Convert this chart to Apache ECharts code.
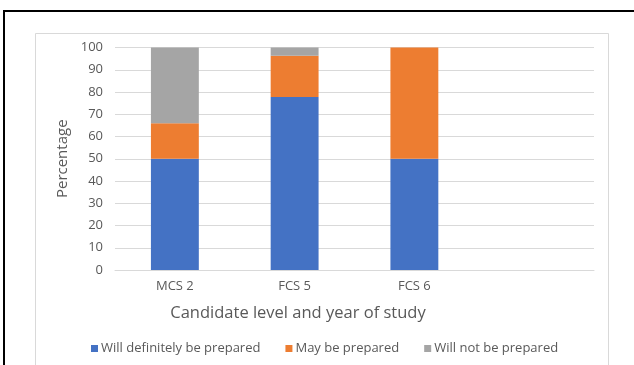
<!DOCTYPE html>
<html>
<head>
<meta charset="utf-8">
<script src="https://cdn.jsdelivr.net/npm/echarts@6/dist/echarts.min.js"></script>
<style>
  html, body { margin: 0; padding: 0; background: #fff; }
  #chart { width: 634px; height: 365px; }
</style>
</head>
<body>
<div id="chart"></div>
<script>
// Candidate groups (the trailing blank slot keeps an empty band on the right)
const categories = ['MCS 2', 'FCS 5', 'FCS 6', ''];
const seriesNames = ['Will definitely be prepared', 'May be prepared', 'Will not be prepared'];
const definitelyPrepared = [50, 77.8, 50, null];
const mayBePrepared = [16, 18.5, 50, null];
const notPrepared = [34, 3.7, 0, null];
const yTicks = { min: 0, max: 100, step: 10 };

const FONT = '"Open Sans", sans-serif';
const TEXT = '#595959';
const colors = ['#4472C4', '#ED7D31', '#A5A5A5'];
const values = [definitelyPrepared, mayBePrepared, notPrepared];

const chart = echarts.init(document.getElementById('chart'), null, { renderer: 'canvas' });

chart.setOption({
  backgroundColor: '#ffffff',
  animation: false,
  textStyle: { fontFamily: FONT },
  color: colors,
  grid: { left: 115, right: 40, top: 47.5, bottom: 95 },
  xAxis: {
    type: 'category',
    data: categories,
    axisLine: { show: true, lineStyle: { color: '#D9D9D9', width: 1 } },
    axisTick: { show: false },
    axisLabel: { color: TEXT, fontSize: 13, fontFamily: FONT, margin: 10 }
  },
  yAxis: {
    type: 'value',
    min: yTicks.min,
    max: yTicks.max,
    interval: yTicks.step,
    name: 'Percentage',
    nameLocation: 'middle',
    nameGap: 40,
    nameTextStyle: { color: TEXT, fontSize: 15, fontFamily: FONT },
    axisLine: { show: false },
    axisTick: { show: false },
    axisLabel: { color: TEXT, fontSize: 13, fontFamily: FONT, margin: 12 },
    splitLine: { lineStyle: { color: '#D9D9D9', width: 1 } }
  },
  legend: {
    data: seriesNames,
    bottom: 5,
    left: 86,
    icon: 'rect',
    itemWidth: 7,
    itemHeight: 7,
    itemGap: 25,
    textStyle: { color: TEXT, fontSize: 13, fontFamily: FONT, padding: [0, 0, 0, -2] }
  },
  graphic: [
    // outer frame (black, open at right and bottom)
    { type: 'polyline', silent: true,
      shape: { points: [[4, 365], [4, 11], [634, 11]] },
      style: { stroke: '#000', lineWidth: 2, fill: null } },
    // chart area border
    { type: 'rect', silent: true,
      shape: { x: 35.5, y: 33.5, width: 573, height: 340 },
      style: { stroke: '#D9D9D9', lineWidth: 1, fill: null } },
    // horizontal axis title
    { type: 'text', silent: true, x: 298, y: 313,
      style: { text: 'Candidate level and year of study', fill: TEXT,
               font: '16.5px ' + FONT, align: 'center', verticalAlign: 'middle' } }
  ],
  series: seriesNames.map((name, i) => ({
    name: name,
    type: 'bar',
    stack: 'total',
    barWidth: '40%',
    data: values[i],
    itemStyle: { color: colors[i] }
  }))
});
</script>
</body>
</html>
